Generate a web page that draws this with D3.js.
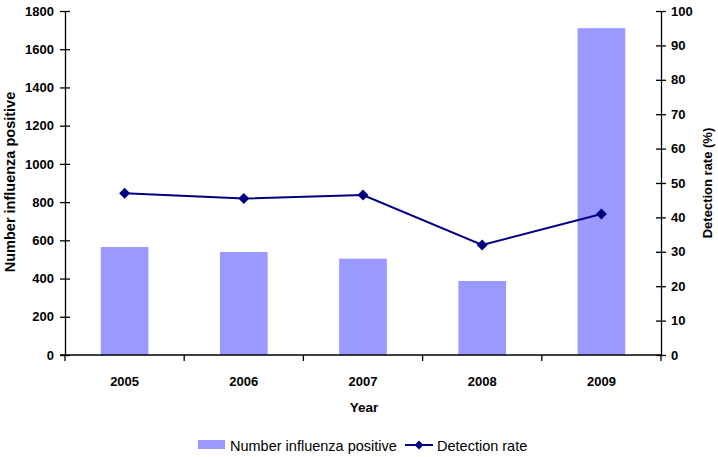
<!DOCTYPE html>
<html><head><meta charset="utf-8">
<script src="https://cdn.jsdelivr.net/npm/d3@7"></script>
<style>body{margin:0;background:#fff}svg{display:block}text{font-family:"Liberation Sans",Arial,sans-serif}</style>
</head><body>
<svg id="c" width="718" height="457"></svg>
<script>
const years = ["2005","2006","2007","2008","2009"];
const positives = [565, 539, 504, 387, 1710];
const detectionRate = [47.0, 45.5, 46.5, 32.0, 41.0];
const leftTicks = [0,200,400,600,800,1000,1200,1400,1600,1800];
const rightTicks = [0,10,20,30,40,50,60,70,80,90,100];

const svg = d3.select("#c");
const L = 65, R = 661, T = 11, B = 355;
const x = d3.scaleBand().domain(years).range([L, R]).paddingInner(0.6).paddingOuter(0.3);
const yL = d3.scaleLinear().domain([0, 1800]).range([B, T]);
const yR = d3.scaleLinear().domain([0, 100]).range([B, T]);

// bars
svg.append("g").selectAll("rect").data(years).join("rect")
  .attr("x", d => x(d)).attr("width", x.bandwidth())
  .attr("y", (d,i) => yL(positives[i])).attr("height", (d,i) => B - yL(positives[i]))
  .attr("fill", "#9999ff");

// axes
const tickFont = g => g.selectAll("text").attr("font-size", 13).attr("font-weight", "bold").attr("fill", "#000").style("font-family","'Liberation Sans',Arial,sans-serif");
const ax = g => { g.select(".domain").attr("stroke", "#000").attr("stroke-width", 1.3); g.selectAll(".tick line").attr("stroke", "#000").attr("stroke-width", 1.3); };

svg.append("g").attr("transform", `translate(${L},0)`)
  .call(d3.axisLeft(yL).tickValues(leftTicks).tickSize(5).tickSizeOuter(0).tickFormat(d3.format("d")))
  .call(g => g.selectAll(".tick line").attr("x2", 5).attr("x1", -5))
  .call(ax).call(tickFont).call(g => g.selectAll("text").attr("x", -11));

svg.append("g").attr("transform", `translate(${R},0)`)
  .call(d3.axisRight(yR).tickValues(rightTicks).tickSize(5).tickSizeOuter(0))
  .call(g => g.selectAll(".tick line").attr("x1", -5).attr("x2", 5))
  .call(ax).call(tickFont).call(g => g.selectAll("text").attr("x", 10));

// x axis with boundary ticks
const xg = svg.append("g").attr("transform", `translate(0,${B})`);
xg.append("line").attr("x1", L - 5).attr("x2", R).attr("stroke", "#000").attr("stroke-width", 1.3);
const step = x.step();
const bounds = d3.range(years.length + 1).map(i => L + i*step);
xg.selectAll(".bt").data(bounds).join("line")
  .attr("x1", d => d).attr("x2", d => d).attr("y1", 0).attr("y2", 6)
  .attr("stroke", "#000").attr("stroke-width", 1.3);
xg.selectAll(".lbl").data(years).join("text")
  .attr("x", d => x(d) + x.bandwidth()/2).attr("y", 31)
  .attr("text-anchor", "middle").attr("font-size", 13).attr("font-weight", "bold").text(d => d);

// line
const pts = years.map((d,i) => [x(d) + x.bandwidth()/2, yR(detectionRate[i])]);
svg.append("path").attr("d", d3.line()(pts)).attr("fill", "none").attr("stroke", "#000080").attr("stroke-width", 2);
svg.append("g").selectAll("path").data(pts).join("path")
  .attr("transform", d => `translate(${d[0]},${d[1]})`)
  .attr("d", "M0,-5.5L5.5,0L0,5.5L-5.5,0Z").attr("fill", "#000080");

// titles
svg.append("text").attr("transform", `translate(15,182) rotate(-90)`)
  .attr("text-anchor", "middle").attr("font-size", 14.5).attr("font-weight", "bold").text("Number influenza positive");
svg.append("text").attr("transform", `translate(712,183) rotate(-90)`)
  .attr("text-anchor", "middle").attr("font-size", 13).attr("font-weight", "bold").text("Detection rate (%)");
svg.append("text").attr("x", 364).attr("y", 412)
  .attr("text-anchor", "middle").attr("font-size", 13.5).attr("font-weight", "bold").text("Year");

// legend
const lg = svg.append("g");
lg.append("rect").attr("x", 198).attr("y", 440).attr("width", 27).attr("height", 9).attr("fill", "#9999ff");
lg.append("text").attr("x", 230).attr("y", 451).attr("font-size", 14.5).text("Number influenza positive");
lg.append("line").attr("x1", 405).attr("x2", 433).attr("y1", 445).attr("y2", 445).attr("stroke", "#000080").attr("stroke-width", 2);
lg.append("path").attr("transform", "translate(419,445)").attr("d", "M0,-4.5L4.5,0L0,4.5L-4.5,0Z").attr("fill", "#000080");
lg.append("text").attr("x", 437).attr("y", 451).attr("font-size", 14.5).text("Detection rate");
</script>
</body></html>
